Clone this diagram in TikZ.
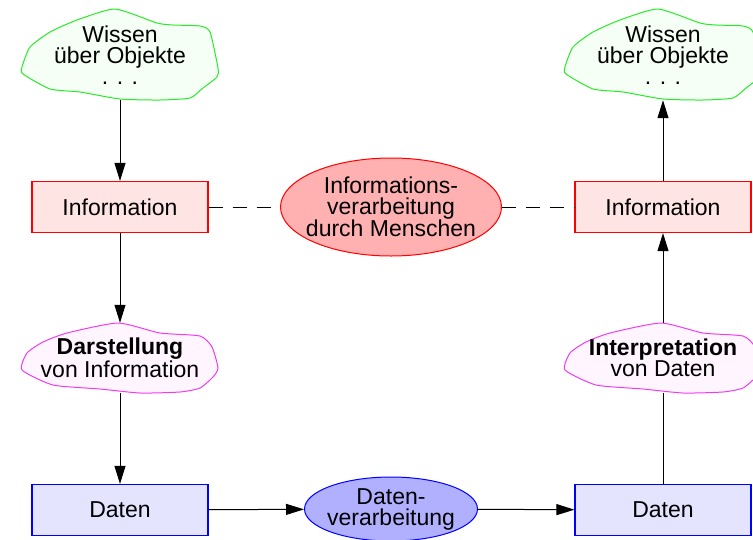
\documentclass[tikz,border=0pt]{standalone}
\usepackage{fontspec}
\setmainfont{Liberation Sans}
\usetikzlibrary{shapes.geometric,arrows.meta,backgrounds}

\definecolor{wissenline}{RGB}{40,235,40}
\definecolor{wissenfill}{RGB}{245,255,245}
\definecolor{bildline}{RGB}{240,60,240}
\definecolor{bildfill}{RGB}{255,245,255}
\definecolor{infored}{RGB}{255,0,0}
\definecolor{infofill}{RGB}{255,228,228}
\definecolor{infoellipse}{RGB}{255,176,176}
\definecolor{datenblue}{RGB}{0,0,255}
\definecolor{datenfill}{RGB}{228,228,255}
\definecolor{datenellipse}{RGB}{176,176,255}

\newcommand{\wissencloud}[1]{\draw[line width=1pt,draw=wissenline,fill=wissenfill,shift={(#1.center)}]
  plot[smooth cycle,tension=0.35] coordinates {(-98,12) (-90,-8) (-70,-23) (-43,-35) (-5,-46) (37,-32)
  (53,-30) (80,-29) (90,-23) (98,13) (97,22) (83,33) (70,43) (40,45) (0,44) (-40,37) (-70,34) (-97,19)};}
\newcommand{\bildcloud}[1]{\draw[line width=1pt,draw=bildline,fill=bildfill,shift={(#1.center)}]
  plot[smooth cycle,tension=0.35] coordinates {(-2,-35) (40,-25) (80,-22) (92,-11) (98,10) (93,19)
  (80,30) (60,34) (20,35) (-20,31) (-67,27) (-98,12) (-93,-5) (-77,-16) (-53,-25)};}

\begin{document}
\begin{tikzpicture}[x=1pt,y=-1pt,font=\fontsize{23}{21}\selectfont,
	box/.style={line width=1.2pt,minimum width=176pt,minimum height=51pt,inner sep=0pt},
	infobox/.style={box,draw=infored,fill=infofill},
	datenbox/.style={box,draw=datenblue,fill=datenfill},
	cloudtext/.style={align=center,minimum width=196pt,inner sep=0pt},
	arr/.style={-{Triangle[length=18pt,width=11pt]},line width=1pt},
	dashline/.style={line width=1pt,dash pattern=on 14pt off 10pt}]

	\useasboundingbox (0,0) rectangle (753,539);

	% Left column
	\node[cloudtext,minimum height=90pt] (w1) at (120,55) {Wissen\\über Objekte\\. . .};
	\node[infobox] (i1) at (120,207) {Information};
	\node[cloudtext,minimum height=70pt] (d1) at (120,358) {\textbf{Darstellung}\\von Information};
	\node[datenbox] (t1) at (120,510) {Daten};

	% Right column
	\node[cloudtext,minimum height=90pt] (w2) at (663,55) {Wissen\\über Objekte\\. . .};
	\node[infobox] (i2) at (663,207) {Information};
	\node[cloudtext,minimum height=70pt] (p2) at (663,358) {\textbf{Interpretation}\\von Daten};
	\node[datenbox] (t2) at (663,510) {Daten};

	% Middle
	\node[ellipse,draw=infored,fill=infoellipse,line width=1pt,align=center,
		minimum width=221pt,minimum height=98pt,inner xsep=-8pt,inner ysep=0pt] (e1) at (391,207)
		{Informations-\\verarbeitung\\durch Menschen};
	\node[ellipse,draw=datenblue,fill=datenellipse,line width=1pt,align=center,
		minimum width=173pt,minimum height=64pt,inner xsep=-3pt,inner ysep=-1pt] (e2) at (391,509)
		{Daten-\\verarbeitung};

	% Clouds behind the texts
	\begin{scope}[on background layer]
		\wissencloud{w1}
		\wissencloud{w2}
		\bildcloud{d1}
		\bildcloud{p2}
	\end{scope}

	% Arrows
	\draw[arr] (w1) -- (i1);
	\draw[arr] (i1) -- (d1);
	\draw[arr] (d1) -- (t1);
	\draw[arr] (t1) -- (e2);
	\draw[arr] (e2) -- (t2);
	\draw[line width=1pt] (t2) -- (p2);
	\draw[arr] (p2) -- (i2);
	\draw[arr] (i2) -- (w2);

	\draw[dashline] (i1) -- (e1) -- (i2);

\end{tikzpicture}
\end{document}
